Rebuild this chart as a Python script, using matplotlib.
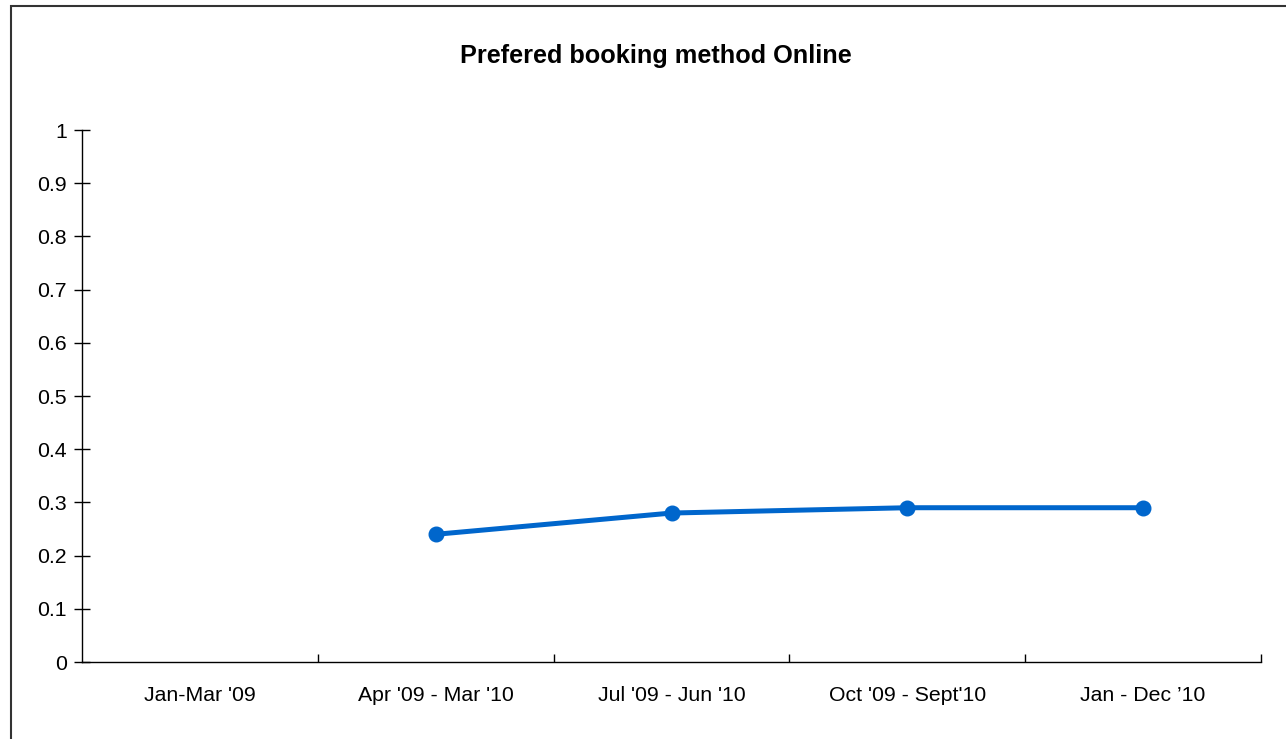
import matplotlib.pyplot as plt
from matplotlib.patches import Rectangle
from matplotlib.ticker import FixedLocator, NullFormatter

plt.rcParams['font.family'] = ['Liberation Sans', 'DejaVu Sans']

periods = ["Jan-Mar '09", "Apr '09 - Mar '10", "Jul '09 - Jun '10",
           "Oct '09 - Sept'10", "Jan - Dec \u201910"]
online_share = [None, 0.24, 0.28, 0.29, 0.29]
yticks = [0, 0.1, 0.2, 0.3, 0.4, 0.5, 0.6, 0.7, 0.8, 0.9, 1]

W, H = 1286, 739
fig = plt.figure(figsize=(W / 100, H / 100), dpi=100)
ax = fig.add_axes([82 / W, (H - 662) / H, (1261 - 82) / W, (662 - 130) / H])

xs = [i for i, v in enumerate(online_share) if v is not None]
ys = [v for v in online_share if v is not None]
ax.plot(xs, ys, color='#0066CC', lw=3.6, marker='o', markersize=10.5,
        solid_capstyle='round')

ax.set_xlim(-0.5, len(periods) - 0.5)
ax.set_ylim(0, 1)
ax.set_yticks(yticks)
ax.set_yticklabels([('%g' % t) for t in yticks])
ax.tick_params(axis='y', direction='inout', length=12, width=1,
               labelsize=15.3, pad=5)

# category boundaries as major ticks, labels sit on minor ticks
ax.xaxis.set_major_locator(FixedLocator([i + 0.5 for i in range(len(periods))]))
ax.xaxis.set_major_formatter(NullFormatter())
ax.xaxis.set_minor_locator(FixedLocator(range(len(periods))))
ax.set_xticklabels(periods, minor=True)
ax.tick_params(axis='x', which='major', direction='in', length=6, width=1)
ax.tick_params(axis='x', which='minor', length=0, labelsize=15.3, pad=17)

for s in ['top', 'right']:
    ax.spines[s].set_visible(False)
for s in ['left', 'bottom']:
    ax.spines[s].set_linewidth(1)

fig.text(656 / W, 1 - 56 / H, 'Prefered booking method Online',
         ha='center', va='center', fontsize=18.2, fontweight='bold')

fig.patches.append(Rectangle((11 / W, -0.1), 1.2, 1 - 6 / H + 0.1,
                             transform=fig.transFigure, fill=False,
                             edgecolor='#333333', lw=1.5))

fig.savefig('out.png', dpi=100)
